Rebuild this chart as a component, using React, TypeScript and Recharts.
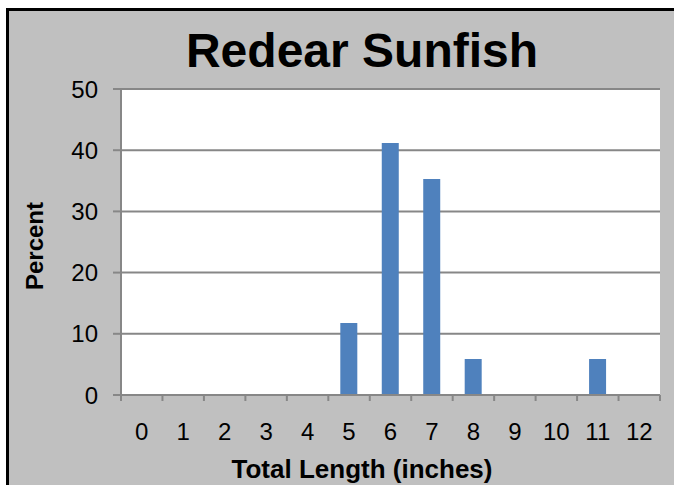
import React from "react";
import { BarChart, Bar, XAxis, YAxis, CartesianGrid } from "recharts";

const lengths = ["0", "1", "2", "3", "4", "5", "6", "7", "8", "9", "10", "11", "12"];
const percents = [0, 0, 0, 0, 0, 11.76, 41.18, 35.29, 5.88, 0, 0, 5.88, 0];
const yTicks = [0, 10, 20, 30, 40, 50];

const data = lengths.map((len, i) => ({ len, pct: percents[i] }));

const W = 674;
const H = 485;
const MARGIN = { top: 89, right: 14, bottom: 50, left: 61 };
const Y_AXIS_W = 60;
const X_AXIS_H = 40;
const PLOT_W = W - MARGIN.left - MARGIN.right - Y_AXIS_W;
const BAND = PLOT_W / lengths.length;
const X_TICK_SIZE = 6;
const X_TICK_MARGIN = 22;
const FONT = "'Liberation Sans', Arial, sans-serif";
const GRID = "#878787";

const XTick = (props: any) => {
  const { x, y, payload, index } = props;
  const axisY = y - X_TICK_SIZE - X_TICK_MARGIN;
  const half = BAND / 2;
  return (
    <g>
      <line x1={x - half} x2={x - half} y1={axisY} y2={axisY + X_TICK_SIZE} stroke={GRID} strokeWidth={2} />
      {index === lengths.length - 1 && (
        <line x1={x + half} x2={x + half} y1={axisY} y2={axisY + X_TICK_SIZE} stroke={GRID} strokeWidth={2} />
      )}
      <text x={x} y={y} dy="0.71em" textAnchor="middle" fontFamily={FONT} fontSize={24} fill="#000">
        {payload.value}
      </text>
    </g>
  );
};

export default function App() {
  return (
    <div style={{ position: "fixed", left: 0, top: 0, width: W, height: H, overflow: "hidden", background: "#fff" }}>
      <div
        style={{
          position: "absolute",
          left: 6,
          top: 8,
          width: W,
          height: H,
          background: "#c0c0c0",
          borderLeft: "3px solid #000",
          borderTop: "3px solid #000",
          boxSizing: "border-box",
        }}
      />
      <div style={{ position: "absolute", left: 0, top: 0 }}>
        <BarChart width={W} height={H} data={data} margin={MARGIN} barSize={17}>
          <CartesianGrid vertical={false} stroke={GRID} strokeWidth={2} fill="#fff" />
          <XAxis
            dataKey="len"
            interval={0}
            height={X_AXIS_H}
            tickLine={false}
            tickSize={X_TICK_SIZE}
            tickMargin={X_TICK_MARGIN}
            axisLine={{ stroke: GRID, strokeWidth: 2 }}
            tick={<XTick />}
          />
          <YAxis
            width={Y_AXIS_W}
            domain={[0, 50]}
            ticks={yTicks}
            interval={0}
            tickSize={8}
            tickMargin={15}
            tickLine={{ stroke: GRID, strokeWidth: 2 }}
            axisLine={{ stroke: GRID, strokeWidth: 2 }}
            tick={{ fontFamily: FONT, fontSize: 24, fill: "#000" }}
          />
          <Bar dataKey="pct" fill="#4f81bd" isAnimationActive={false} />
        </BarChart>
      </div>
      <svg width={W} height={H} style={{ position: "absolute", left: 0, top: 0, pointerEvents: "none" }}>
        <text x={362} y={67} textAnchor="middle" fontFamily={FONT} fontWeight="bold" fontSize={48} fill="#000">
          Redear Sunfish
        </text>
        <text x={362} y={478} textAnchor="middle" fontFamily={FONT} fontWeight="bold" fontSize={26} fill="#000">
          Total Length (inches)
        </text>
        <text
          x={43}
          y={246}
          textAnchor="middle"
          fontFamily={FONT}
          fontWeight="bold"
          fontSize={24}
          fill="#000"
          transform="rotate(-90 43 246)"
        >
          Percent
        </text>
      </svg>
    </div>
  );
}
